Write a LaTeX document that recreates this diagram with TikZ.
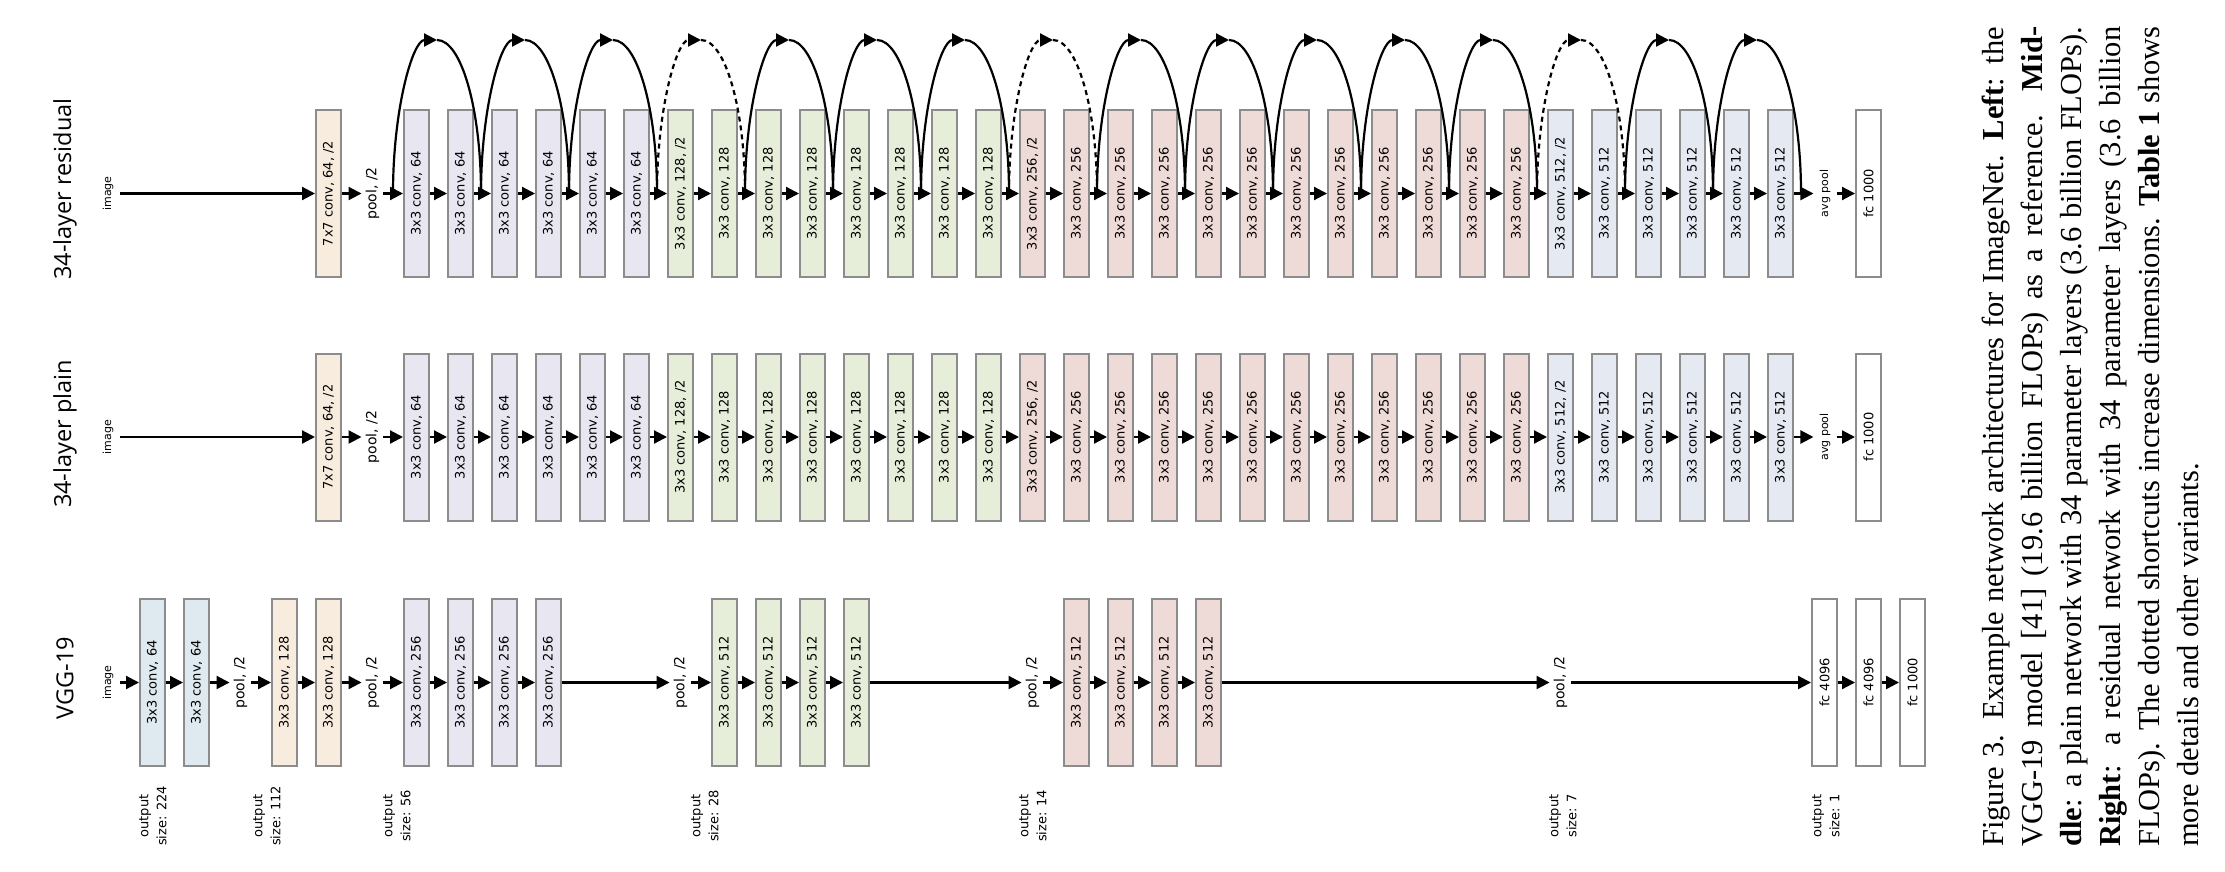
\documentclass[tikz,border=0pt]{standalone}
\usepackage{fontspec}
\newfontfamily\boxfont{DejaVu Sans}
\newfontfamily\titlefont{Open Sans}
\newfontfamily\capfont{Liberation Serif}
\usetikzlibrary{arrows.meta}
\definecolor{cBeige}{RGB}{248,236,222}
\definecolor{cLav}{RGB}{232,230,240}
\definecolor{cGreen}{RGB}{230,238,218}
\definecolor{cPink}{RGB}{238,218,215}
\definecolor{cBlue}{RGB}{229,233,242}
\definecolor{cVgg}{RGB}{222,234,240}
\definecolor{boxgray}{RGB}{140,140,140}
\newcommand\setlayer[1]{%
 \ifnum#1<6 \def\lab{3x3 conv, 64}\def\col{cLav}%
 \else\ifnum#1=6 \def\lab{3x3 conv, 128, /2}\def\col{cGreen}%
 \else\ifnum#1<14 \def\lab{3x3 conv, 128}\def\col{cGreen}%
 \else\ifnum#1=14 \def\lab{3x3 conv, 256, /2}\def\col{cPink}%
 \else\ifnum#1<26 \def\lab{3x3 conv, 256}\def\col{cPink}%
 \else\ifnum#1=26 \def\lab{3x3 conv, 512, /2}\def\col{cBlue}%
 \else \def\lab{3x3 conv, 512}\def\col{cBlue}%
 \fi\fi\fi\fi\fi\fi}
\newcommand\resarc[2]{%
 \pgfmathsetmacro\sx{393+88*#1}%
 \pgfmathsetmacro\ex{\sx+88}%
 \pgfmathsetmacro\mx{\sx+44}%
 \coordinate (as#1) at (\sx,193.5);
 \coordinate (am#1) at (\mx,40);
 \coordinate (ae#1) at (\ex,193.5);
 \draw[shortcut,#2] (as#1) .. controls (\sx,108.7) and ({\mx-24.3},40) .. (am#1);
 \draw[arcline,#2] (am#1) .. controls ({\mx+24.3},40) and (\ex,108.7) .. (ae#1);
}
\begin{document}
\begin{tikzpicture}[x=1pt,y=-1pt,
  layer/.style={draw=boxgray, line width=2pt, rotate=90, minimum width=167pt, minimum height=25pt, inner sep=0pt, font=\boxfont\fontsize{13}{15}\selectfont, text=black},
  lbl/.style={rotate=90, inner sep=4pt, font=\boxfont\fontsize{14}{16}\selectfont, text=black},
  slbl/.style={rotate=90, inner sep=6pt, font=\boxfont\fontsize{11}{13}\selectfont, text=black},
  outlbl/.style={rotate=90, align=center, inner sep=0pt, font=\boxfont\fontsize{13}{18}\selectfont, text=black},
  ttl/.style={rotate=90, inner sep=0pt, font=\titlefont\fontsize{23.5}{26}\selectfont},
  capline/.style={rotate=90, anchor=base west, inner sep=0pt, font=\capfont\fontsize{30.5}{36}\selectfont},
  flow/.style={line width=2.2pt, -{Triangle[length=13pt,width=13pt]}},
  arcline/.style={line width=2.2pt},
  shortcut/.style={line width=2.2pt, -{Triangle[length=13pt,width=13pt]}},
  dashedcut/.style={dash pattern=on 5pt off 4pt}
]
\useasboundingbox (0,0) rectangle (2225,871);
\fill[white] (0,0) rectangle (2225,871);

% titles
\node[ttl] (t1) at (65,189) {34-layer residual};
\node[ttl] (t2) at (65,434) {34-layer plain};
\node[ttl] (t3) at (65,678) {VGG-19};

% ---------- residual row ----------
\node[slbl] (rimg) at (108,193.5) {image};
\node[layer, fill=cBeige] (rconv) at (328.5,193.5) {7x7 conv, 64, /2};
\node[lbl] (rpool) at (372.5,193.5) {pool, /2};
\foreach \k in {0,...,31} {
  \setlayer{\k}
  \node[layer, fill=\col] (r\k) at ({416.5+44*\k},193.5) {\lab};
}
\node[slbl] (ravg) at (1825,193.5) {avg pool};
\node[layer, fill=white] (rfc) at (1868.5,193.5) {fc 1000};
\draw[flow] (rimg) -- (rconv);
\draw[flow] (rconv) -- (rpool);
\draw[flow] (rpool) -- (r0);
\foreach \k [count=\n from 1] in {0,...,30} { \draw[flow] (r\k) -- (r\n); }
\draw[flow] (r31) -- (ravg);
\draw[flow] (ravg) -- (rfc);
\foreach \b in {0,1,2,4,5,6,8,9,10,11,12,14,15} { \resarc{\b}{solid} }
\foreach \b in {3,7,13} { \resarc{\b}{dashedcut} }

% ---------- plain row ----------
\node[slbl] (pimg) at (108,437) {image};
\node[layer, fill=cBeige] (pconv) at (328.5,437) {7x7 conv, 64, /2};
\node[lbl] (ppool) at (372.5,437) {pool, /2};
\foreach \k in {0,...,31} {
  \setlayer{\k}
  \node[layer, fill=\col] (p\k) at ({416.5+44*\k},437) {\lab};
}
\node[slbl] (pavg) at (1825,437) {avg pool};
\node[layer, fill=white] (pfc) at (1868.5,437) {fc 1000};
\draw[flow] (pimg) -- (pconv);
\draw[flow] (pconv) -- (ppool);
\draw[flow] (ppool) -- (p0);
\foreach \k [count=\n from 1] in {0,...,30} { \draw[flow] (p\k) -- (p\n); }
\draw[flow] (p31) -- (pavg);
\draw[flow] (pavg) -- (pfc);

% ---------- VGG-19 row ----------
\node[slbl] (vimg) at (108,682.5) {image};
\node[layer, fill=cVgg] (v1) at (152.5,682.5) {3x3 conv, 64};
\node[layer, fill=cVgg] (v2) at (196.5,682.5) {3x3 conv, 64};
\node[lbl] (vp1) at (240.5,682.5) {pool, /2};
\node[layer, fill=cBeige] (v3) at (284.5,682.5) {3x3 conv, 128};
\node[layer, fill=cBeige] (v4) at (328.5,682.5) {3x3 conv, 128};
\node[lbl] (vp2) at (372.5,682.5) {pool, /2};
\node[layer, fill=cLav] (v5) at (416.5,682.5) {3x3 conv, 256};
\node[layer, fill=cLav] (v6) at (460.5,682.5) {3x3 conv, 256};
\node[layer, fill=cLav] (v7) at (504.5,682.5) {3x3 conv, 256};
\node[layer, fill=cLav] (v8) at (548.5,682.5) {3x3 conv, 256};
\node[lbl] (vp3) at (680.5,682.5) {pool, /2};
\node[layer, fill=cGreen] (v9) at (724.5,682.5) {3x3 conv, 512};
\node[layer, fill=cGreen] (v10) at (768.5,682.5) {3x3 conv, 512};
\node[layer, fill=cGreen] (v11) at (812.5,682.5) {3x3 conv, 512};
\node[layer, fill=cGreen] (v12) at (856.5,682.5) {3x3 conv, 512};
\node[lbl] (vp4) at (1032.5,682.5) {pool, /2};
\node[layer, fill=cPink] (v13) at (1076.5,682.5) {3x3 conv, 512};
\node[layer, fill=cPink] (v14) at (1120.5,682.5) {3x3 conv, 512};
\node[layer, fill=cPink] (v15) at (1164.5,682.5) {3x3 conv, 512};
\node[layer, fill=cPink] (v16) at (1208.5,682.5) {3x3 conv, 512};
\node[lbl] (vp5) at (1560.5,682.5) {pool, /2};
\node[layer, fill=white] (vf1) at (1824.5,682.5) {fc 4096};
\node[layer, fill=white] (vf2) at (1868.5,682.5) {fc 4096};
\node[layer, fill=white] (vf3) at (1912.5,682.5) {fc 1000};
\draw[flow] (vimg) -- (v1);
\draw[flow] (v1) -- (v2);
\draw[flow] (v2) -- (vp1);
\draw[flow] (vp1) -- (v3);
\draw[flow] (v3) -- (v4);
\draw[flow] (v4) -- (vp2);
\draw[flow] (vp2) -- (v5);
\draw[flow] (v5) -- (v6);
\draw[flow] (v6) -- (v7);
\draw[flow] (v7) -- (v8);
\draw[flow] (v8) -- (vp3);
\draw[flow] (vp3) -- (v9);
\draw[flow] (v9) -- (v10);
\draw[flow] (v10) -- (v11);
\draw[flow] (v11) -- (v12);
\draw[flow] (v12) -- (vp4);
\draw[flow] (vp4) -- (v13);
\draw[flow] (v13) -- (v14);
\draw[flow] (v14) -- (v15);
\draw[flow] (v15) -- (v16);
\draw[flow] (v16) -- (vp5);
\draw[flow] (vp5) -- (vf1);
\draw[flow] (vf1) -- (vf2);
\draw[flow] (vf2) -- (vf3);

% output sizes
\node[outlbl] (o1) at (153,816) {output\\size: 224};
\node[outlbl] (o2) at (267,816) {output\\size: 112};
\node[outlbl] (o3) at (397,816) {output\\size: 56};
\node[outlbl] (o4) at (705,816) {output\\size: 28};
\node[outlbl] (o5) at (1033,816) {output\\size: 14};
\node[outlbl] (o6) at (1563,816) {output\\size: 7};
\node[outlbl] (o7) at (1826,816) {output\\size: 1};

% caption
\node[capline] (c1) at (2003,847) {\makebox[820pt][s]{Figure 3. Example network architectures for ImageNet. \textbf{Left}: the}};
\node[capline] (c2) at (2042,847) {\makebox[820pt][s]{VGG-19 model [41] (19.6 billion FLOPs) as a reference. \textbf{Mid-}}};
\node[capline] (c3) at (2081.5,847) {\makebox[820pt][s]{\textbf{dle}: a plain network with 34 parameter layers (3.6 billion FLOPs).}};
\node[capline] (c4) at (2120.5,847) {\makebox[820pt][s]{\textbf{Right}: a residual network with 34 parameter layers (3.6 billion}};
\node[capline] (c5) at (2159.5,847) {\makebox[820pt][s]{FLOPs). The dotted shortcuts increase dimensions. \textbf{Table 1} shows}};
\node[capline] (c6) at (2198,847) {more details and other variants.};
\end{tikzpicture}
\end{document}
